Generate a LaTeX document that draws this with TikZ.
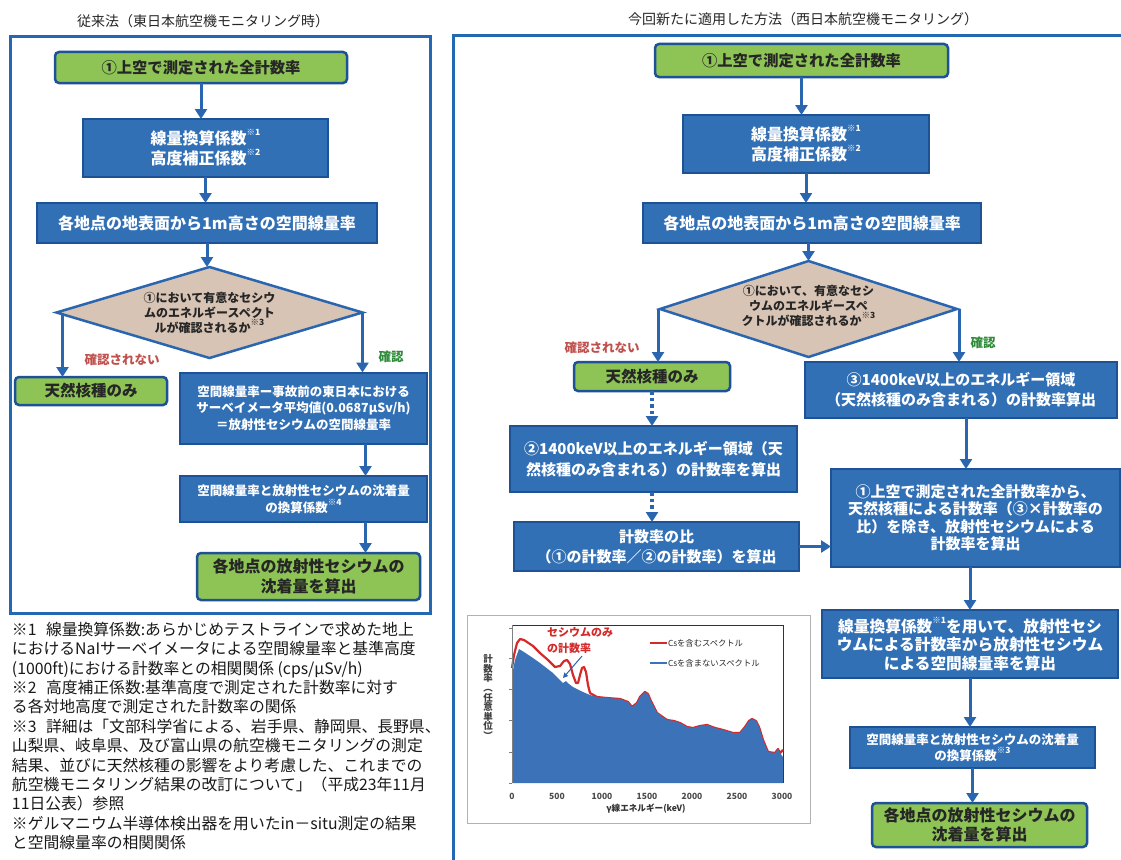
\documentclass[tikz,border=0pt]{standalone}
\usepackage{fontspec}
\setmainfont{Noto Sans CJK JP}
\usetikzlibrary{shapes.geometric,arrows.meta,calc}
\definecolor{bfill}{HTML}{3270B6}
\definecolor{bdraw}{HTML}{1E5296}
\definecolor{gfill}{HTML}{8DC455}
\definecolor{dfill}{HTML}{D8C4B4}
\definecolor{fblue}{HTML}{2268B2}
\definecolor{lblue}{HTML}{2A66B0}
\definecolor{nored}{HTML}{C0504D}
\definecolor{okgreen}{HTML}{2E8B3A}
\definecolor{specblue}{HTML}{3C72B8}
\definecolor{specred}{HTML}{D42A2A}
\newcommand\fsz[2]{\fontsize{#1}{#2}\selectfont}
\newcommand\kome[1]{\raisebox{0.55em}{\fontsize{8.5}{8.5}\selectfont ※#1}}
\begin{document}
\begin{tikzpicture}[x=1pt,y=-1pt,
  every node/.style={inner sep=0pt, outer sep=0pt},
  bluebox/.style={draw=bdraw, line width=2pt, fill=bfill, text=white, align=center},
  greenbox/.style={draw=bdraw, line width=2.5pt, fill=gfill, rounded corners=4pt, text=black!85, align=center},
  decision/.style={diamond, draw=lblue, line width=2.5pt, fill=dfill},
  dectext/.style={align=center, text=black!85, font=\bfseries\fsz{12}{15}},
  arr/.style={draw=lblue, line width=3pt, -{Triangle[width=12pt,length=10pt]}},
  darr/.style={arr, line width=3.5pt, dash pattern=on 3.5pt off 3pt},
  frame/.style={draw=fblue, line width=3pt},
  notext/.style={text=nored, font=\bfseries\fsz{12.5}{14}},
  oktext/.style={text=okgreen, font=\bfseries\fsz{12.5}{14}},
  ttl/.style={text=black!85, font=\fsz{14}{16}},
  tick/.style={text=black!70, font=\bfseries\fsz{8.5}{9}}
]
\useasboundingbox (0,0) rectangle (1121,859);
\fill[white] (0,0) rectangle (1121,859);

% ================= LEFT PANEL =================
\node[ttl] (lt) at (203,21) {従来法（東日本航空機モニタリング時）};
\draw[frame] (10,37) rectangle (430,613);

\node[greenbox, minimum width=292, minimum height=31, font=\bfseries\fsz{15.3}{18}] (g1) at (201,67.5) {①上空で測定された全計数率};
\node[bluebox, minimum width=245, minimum height=58, font=\bfseries\fsz{16}{20}] (b2) at (205.5,148) {線量換算係数\kome{1}\\高度補正係数\kome{2}};
\node[bluebox, minimum width=340, minimum height=40, font=\bfseries\fsz{16}{20}] (b3) at (207,223) {各地点の地表面から1m高さの空間線量率};
\node[decision, minimum width=306, minimum height=91] (d1) at (209.5,312.5) {};
\node[dectext] (d1t) at (209.5,313) {①において有意なセシウ\\ムのエネルギースペクト\\ルが確認されるか\kome{3}};
\node[greenbox, minimum width=152, minimum height=28, font=\bfseries\fsz{15.5}{18}] (g2) at (91,391) {天然核種のみ};
\node[bluebox, minimum width=247, minimum height=71, font=\bfseries\fsz{12.5}{16.5}] (b4) at (303.5,408) {空間線量率ー事故前の東日本における\\サーベイメータ平均値(0.0687μSv/h)\\＝放射性セシウムの空間線量率};
\node[bluebox, minimum width=247, minimum height=46, font=\bfseries\fsz{12.5}{16.5}] (b5) at (303.5,499) {空間線量率と放射性セシウムの沈着量\\の換算係数\kome{4}};
\node[greenbox, minimum width=223, minimum height=47, font=\bfseries\fsz{16}{20}] (g3) at (308.5,576.5) {各地点の放射性セシウムの\\沈着量を算出};

\node[notext] (ln) at (122,360) {確認されない};
\node[oktext] (ly) at (391,357) {確認};

\draw[arr] (g1.south) -- (g1.south |- b2.north);
\draw[arr] (b2.south) -- (b2.south |- b3.north);
\draw[arr] (b3.south) -- (b3.south |- d1.north);
\draw[arr] ([xshift=6pt]d1.west) -- ([xshift=6pt]d1.west |- g2.north);
\draw[arr] (d1.east) -- (d1.east |- b4.north);
\draw[arr] ([xshift=3pt]d1.east |- b4.south) -- ([xshift=3pt]d1.east |- b5.north);
\draw[arr] ([xshift=3pt]d1.east |- b5.south) -- ([xshift=3pt]d1.east |- g3.north);

% notes
\node[anchor=north west, align=left, text=black!90, font=\fsz{15.8}{19.4}] (notes) at (12,622) {%
※1\hspace{0.6em}線量換算係数:あらかじめテストラインで求めた地上\\
におけるNaIサーベイメータによる空間線量率と基準高度\\
(1000ft)における計数率との相関関係 (cps/μSv/h)\\
※2\hspace{0.6em}高度補正係数:基準高度で測定された計数率に対す\\
る各対地高度で測定された計数率の関係\\
※3\hspace{0.6em}詳細は「文部科学省による、岩手県、静岡県、長野県、\\
山梨県、岐阜県、及び富山県の航空機モニタリングの測定\\
結果、並びに天然核種の影響をより考慮した、これまでの\\
航空機モニタリング結果の改訂について」（平成23年11月\\
11日公表）参照\\
※ゲルマニウム半導体検出器を用いたin－situ測定の結果\\
と空間線量率の相関関係};

% ================= RIGHT PANEL =================
\node[ttl] (rt) at (803,19) {今回新たに適用した方法（西日本航空機モニタリング）};
\draw[frame] (453,36) rectangle (1140,880);

\node[greenbox, minimum width=293, minimum height=33, font=\bfseries\fsz{15.3}{18}] (rg1) at (801.5,60.5) {①上空で測定された全計数率};
\node[bluebox, minimum width=246, minimum height=58, font=\bfseries\fsz{16}{20}] (rb2) at (806,144) {線量換算係数\kome{1}\\高度補正係数\kome{2}};
\node[bluebox, minimum width=338, minimum height=40, font=\bfseries\fsz{16}{20}] (rb3) at (812,223) {各地点の地表面から1m高さの空間線量率};
\node[decision, minimum width=297, minimum height=96] (rd) at (808.5,309) {};
\node[dectext] (rdt) at (808.5,306) {①において、有意なセシ\\ウムのエネルギースペ\\クトルが確認されるか\kome{3}};
\node[greenbox, minimum width=156, minimum height=29, font=\bfseries\fsz{15.5}{18}] (rg2) at (652,376.5) {天然核種のみ};
\node[bluebox, minimum width=287, minimum height=66, font=\bfseries\fsz{15}{21}] (r2) at (653.5,459) {②1400keV以上のエネルギー領域（天\\然核種のみ含まれる）の計数率を算出};
\node[bluebox, minimum width=285, minimum height=49, font=\bfseries\fsz{15}{20}] (rratio) at (656.5,546.5) {計数率の比\\（①の計数率／②の計数率）を算出};
\node[bluebox, minimum width=312, minimum height=56, font=\bfseries\fsz{15}{20}] (r3) at (961,390) {③1400keV以上のエネルギー領域\\（天然核種のみ含まれる）の計数率算出};
\node[bluebox, minimum width=289, minimum height=98, font=\bfseries\fsz{15}{17.5}] (rsub) at (975.5,518) {①上空で測定された全計数率から、\\天然核種による計数率（③×計数率の\\比）を除き、放射性セシウムによる\\計数率を算出};
\node[bluebox, minimum width=296, minimum height=68, font=\bfseries\fsz{15.7}{18.5}] (rconv) at (970,644) {線量換算係数\kome{1}を用いて、放射性セシ\\ウムによる計数率から放射性セシウム\\による空間線量率を算出};
\node[bluebox, minimum width=245, minimum height=41, font=\bfseries\fsz{12.5}{16}] (rdep) at (972.5,747.5) {空間線量率と放射性セシウムの沈着量\\の換算係数\kome{3}};
\node[greenbox, minimum width=215, minimum height=44, font=\bfseries\fsz{16}{19.5}] (rg3) at (979.5,825) {各地点の放射性セシウムの\\沈着量を算出};

\node[notext] (rn) at (602,348) {確認されない};
\node[oktext] (ry) at (983,343) {確認};

\draw[arr] (rg1.south) -- (rg1.south |- rb2.north);
\draw[arr] (rb2.south) -- (rb2.south |- rb3.north);
\draw[arr] (rb3.south -| rd.north) -- (rd.north);
\draw[arr] ([xshift=-2pt]rd.west) -- ([xshift=-2pt]rd.west |- rg2.north);
\draw[arr] ([xshift=2pt]rd.east) -- ([xshift=2pt]rd.east |- r3.north);
\draw[darr] (rg2.south) -- (rg2.south |- r2.north);
\draw[darr] (rg2.south |- r2.south) -- (rg2.south |- rratio.north);
\draw[arr] (rratio.east) -- (rratio.east -| rsub.west);
\draw[arr] ([xshift=5pt]r3.south) -- ([xshift=5pt]r3.south |- rsub.north);
\draw[arr] (rconv.north |- rsub.south) -- (rconv.north);
\draw[arr] (rconv.south) -- (rconv.south |- rdep.north);
\draw[arr] (rdep.south) -- (rdep.south |- rg3.north);

% ================= SPECTRUM CHART =================
\draw[gray!60, line width=0.7pt] (467,615) rectangle (810,823);
\draw[black!80, line width=0.6pt] (512,625) -- (783,625) -- (783,783);
\draw[specred, line width=2.2pt, line join=round]
 (512,668) -- (514,655) -- (517,643) -- (520,639) -- (524,640) -- (533,646) -- (540,653) -- (548,660) -- (555,667)
 -- (560,666) -- (564,661) -- (567,660) -- (570,664) -- (573,675) -- (576,683) -- (578,683) -- (580,675) -- (582,668)
 -- (584,667) -- (586,672) -- (588,685) -- (590,693) -- (597,697) -- (607,698) -- (620,699) -- (628,702) -- (632,707)
 -- (637,703) -- (640,697) -- (645,692) -- (648,694) -- (650,699) -- (657,713) -- (667,720) -- (674,721) -- (680,723)
 -- (687,727) -- (693,728) -- (700,726) -- (707,725) -- (715,728) -- (723,730) -- (733,733) -- (740,733) -- (745,727)
 -- (749,721) -- (752,719) -- (756,721) -- (759,727) -- (763,740) -- (768,752) -- (775,753) -- (778,749) -- (780,753) -- (783,750);
\fill[specblue]
 (512,783) -- (512,675) -- (515,660) -- (519,649) -- (524,652) -- (533,658) -- (540,663) -- (553,673) -- (563,683)
 -- (566,681) -- (569,684) -- (573,687) -- (583,692) -- (590,695) -- (597,697) -- (607,698) -- (620,699) -- (628,702)
 -- (632,707) -- (637,703) -- (640,697) -- (645,692) -- (648,694) -- (650,699) -- (657,713) -- (667,720) -- (674,721)
 -- (680,723) -- (687,727) -- (693,728) -- (700,726) -- (707,725) -- (715,728) -- (723,730) -- (733,733) -- (740,733)
 -- (745,727) -- (749,721) -- (752,719) -- (756,721) -- (759,727) -- (763,740) -- (768,752) -- (775,753) -- (778,749)
 -- (780,753) -- (783,757) -- (783,783) -- cycle;
\draw[gray, line width=0.6pt] (512,625) -- (512,783);
\foreach \ty in {628,658,689,720,752,783} \draw[gray, line width=0.6pt] (509,\ty) -- (512,\ty);
\foreach \v/\xx in {0/512,500/557,1000/602,1500/647,2000/692,2500/737,3000/782}
  \node[tick] (xt\v) at (\xx,796) {\v};
\node[text=black!80, font=\bfseries\fsz{8.6}{9}] (xl) at (646,809) {γ線エネルギー(keV)};
\node[text=black!75, align=center, font=\bfseries\fsz{9.5}{9.6}] (yl) at (488,697) {計\\数\\率\\︵\\任\\意\\単\\位\\︶};
\node[anchor=west, fill=white, text=specred, align=left, font=\bfseries\fsz{11}{16}, inner sep=1pt] (cso) at (546,640) {セシウムのみ\\の計数率};
\draw[lblue, line width=1pt, -{Triangle[width=5pt,length=5pt]}] (cso.south) ++(2,2) -- (563,678);
\draw[specred, line width=2.5pt] (650,643) -- (667,643);
\node[anchor=west, text=black!85, font=\fsz{8.3}{9}] (lg1) at (668,643) {Csを含むスペクトル};
\draw[specblue, line width=2.5pt] (650,663) -- (667,663);
\node[anchor=west, text=black!85, font=\fsz{8.3}{9}] (lg2) at (668,663) {Csを含まないスペクトル};
\end{tikzpicture}
\end{document}
